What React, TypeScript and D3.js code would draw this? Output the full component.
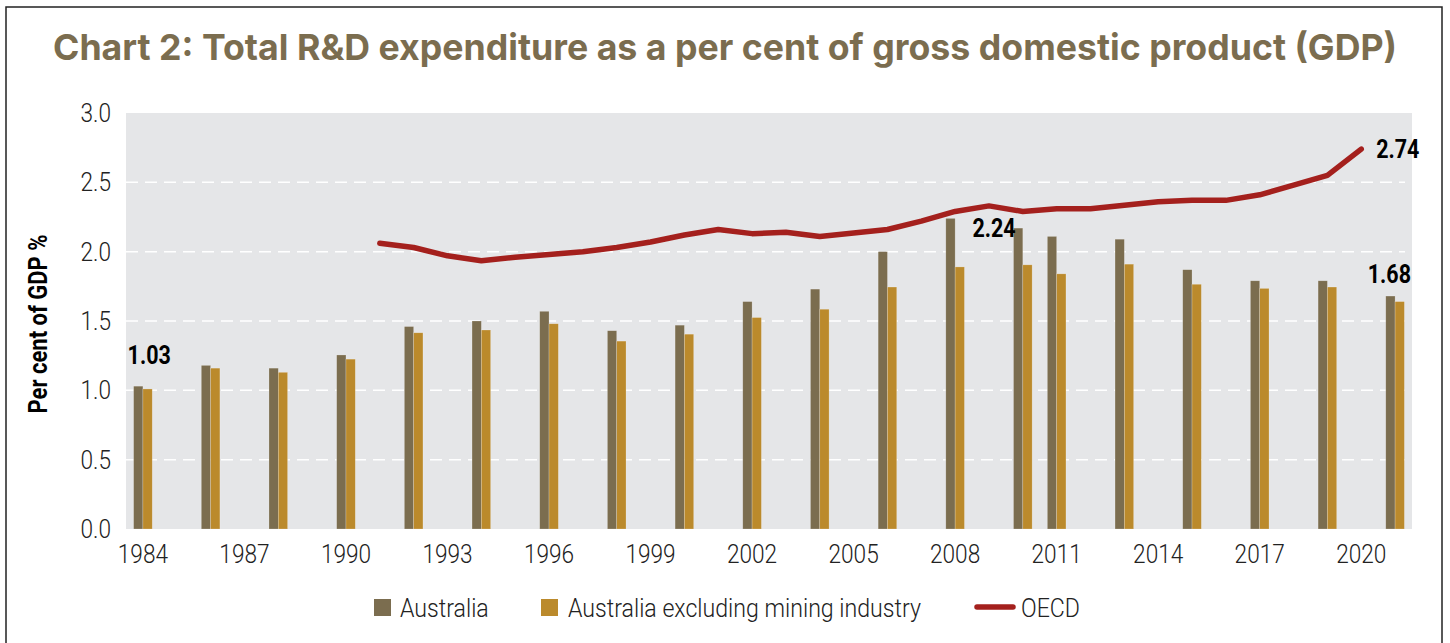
import React from "react";
import * as d3 from "d3";

const barYears = [1984, 1986, 1988, 1990, 1992, 1994, 1996, 1998, 2000, 2002, 2004, 2006, 2008, 2010, 2011, 2013, 2015, 2017, 2019, 2021];
const australia = [1.03, 1.18, 1.16, 1.255, 1.46, 1.5, 1.57, 1.43, 1.47, 1.64, 1.73, 2.0, 2.24, 2.17, 2.11, 2.09, 1.87, 1.79, 1.79, 1.68];
const exMining = [1.01, 1.16, 1.13, 1.225, 1.415, 1.435, 1.48, 1.355, 1.405, 1.525, 1.585, 1.745, 1.89, 1.905, 1.84, 1.91, 1.765, 1.735, 1.745, 1.64];
const oecdYears = [1991, 1992, 1993, 1994, 1995, 1996, 1997, 1998, 1999, 2000, 2001, 2002, 2003, 2004, 2005, 2006, 2007, 2008, 2009, 2010, 2011, 2012, 2013, 2014, 2015, 2016, 2017, 2018, 2019, 2020];
const oecd = [2.06, 2.03, 1.97, 1.935, 1.96, 1.98, 2.0, 2.03, 2.07, 2.12, 2.16, 2.13, 2.14, 2.11, 2.135, 2.16, 2.22, 2.29, 2.33, 2.29, 2.31, 2.31, 2.335, 2.36, 2.37, 2.37, 2.41, 2.48, 2.55, 2.74];
const xTickYears = [1984, 1987, 1990, 1993, 1996, 1999, 2002, 2005, 2008, 2011, 2014, 2017, 2020];
const yTicks = [0, 0.5, 1.0, 1.5, 2.0, 2.5, 3.0];
const gridTicks = [0.5, 1.0, 1.5, 2.0, 2.5];
const allYears = d3.range(1984, 2022);

const TITLE = "Chart 2: Total R&D expenditure as a per cent of gross domestic product (GDP)";
const C_AUS = "#7b6d4f";
const C_EX = "#bb8a2c";
const C_OECD = "#a4201d";

function CText({ x, y, children, size = 26, weight = 300, anchor = "start", sx = 0.87, rotate = 0, fill = "#222" }: any) {
  return (
    <text
      transform={`translate(${x},${y}) rotate(${rotate}) scale(${sx},1)`}
      textAnchor={anchor}
      fontFamily="Roboto"
      fontWeight={weight}
      fontSize={size}
      fill={fill}
    >
      {children}
    </text>
  );
}

export default function App() {
  const W = 1450, H = 643;
  const L = 126, R = 1412, T = 113, B = 529;
  const x = d3.scaleBand<number>().domain(allYears).range([L, R]).padding(0);
  const y = d3.scaleLinear().domain([0, 3]).range([B, T]);
  const bw = x.bandwidth() * 0.275;
  const cx = (yr: number) => (x(yr) as number) + x.bandwidth() / 2;

  const line = d3
    .line<number>()
    .x((_, i) => cx(oecdYears[i]))
    .y((v) => y(v));

  const iFirst = 0;
  const i2008 = barYears.indexOf(2008);
  const iLast = barYears.length - 1;
  const oLast = oecd.length - 1;
  const LS = 25, LSX = 0.86;

  return (
    <svg width={W} height={H} style={{ position: "absolute", left: 0, top: 0, background: "#fff" }}>
      <rect x={6} y={7} width={1436} height={660} fill="#fff" stroke="#222" strokeWidth={1.5} />
      <text
        x={53}
        y={60}
        fontFamily="Inter"
        fontWeight={700}
        fontSize={36}
        fill={C_AUS}
        textLength={1344}
        lengthAdjust="spacingAndGlyphs"
      >
        {TITLE}
      </text>

      <rect x={L} y={T} width={R - L} height={B - T} fill="#e5e6e8" />
      {gridTicks.map((t) => (
        <line key={t} x1={L} x2={R - 7} y1={y(t)} y2={y(t)} stroke="#fff" strokeWidth={1.5} strokeDasharray="12,7" />
      ))}

      {barYears.map((yr, i) => (
        <g key={yr}>
          <rect x={cx(yr) - bw} y={y(australia[i])} width={bw} height={B - y(australia[i])} fill={C_AUS} stroke="#fff" strokeOpacity={0.35} strokeWidth={0.6} />
          <rect x={cx(yr)} y={y(exMining[i])} width={bw} height={B - y(exMining[i])} fill={C_EX} stroke="#fff" strokeOpacity={0.35} strokeWidth={0.6} />
        </g>
      ))}

      <path d={line(oecd) || ""} fill="none" stroke={C_OECD} strokeWidth={5.5} strokeLinecap="round" strokeLinejoin="round" />

      {/* data labels */}
      <CText x={cx(barYears[iFirst]) - bw - 6} y={y(australia[iFirst]) - 22} size={LS} weight={700} sx={LSX} fill="#000">
        {australia[iFirst].toFixed(2)}
      </CText>
      <CText x={cx(barYears[i2008]) + bw + 8} y={y(australia[i2008]) + 19} size={LS} weight={700} sx={LSX} fill="#000">
        {australia[i2008].toFixed(2)}
      </CText>
      <CText x={R - 1} y={y(australia[iLast]) - 13} size={LS} weight={700} sx={LSX} anchor="end" fill="#000">
        {australia[iLast].toFixed(2)}
      </CText>
      <CText x={cx(oecdYears[oLast]) + 15} y={y(oecd[oLast]) + 9} size={LS} weight={700} sx={LSX} fill="#000">
        {oecd[oLast].toFixed(2)}
      </CText>

      {/* y axis */}
      {yTicks.map((t) => (
        <CText key={t} x={111} y={y(t) + 9} anchor="end" size={26}>
          {t.toFixed(1)}
        </CText>
      ))}
      <CText x={47} y={324} rotate={-90} anchor="middle" size={25} weight={700} sx={0.88} fill="#000">
        Per cent of GDP %
      </CText>

      {/* x axis */}
      {xTickYears.map((yr) => (
        <CText key={yr} x={cx(yr)} y={563} anchor="middle" size={26}>
          {yr}
        </CText>
      ))}

      {/* legend */}
      <rect x={374} y={599} width={17} height={17} fill={C_AUS} />
      <CText x={400} y={617} size={26} sx={0.89}>Australia</CText>
      <rect x={541} y={599} width={17} height={17} fill={C_EX} />
      <CText x={568} y={617} size={26} sx={0.89}>Australia excluding mining industry</CText>
      <line x1={977} x2={1013} y1={607} y2={607} stroke={C_OECD} strokeWidth={5.5} strokeLinecap="round" />
      <CText x={1021} y={617} size={26} sx={0.89}>OECD</CText>
    </svg>
  );
}
